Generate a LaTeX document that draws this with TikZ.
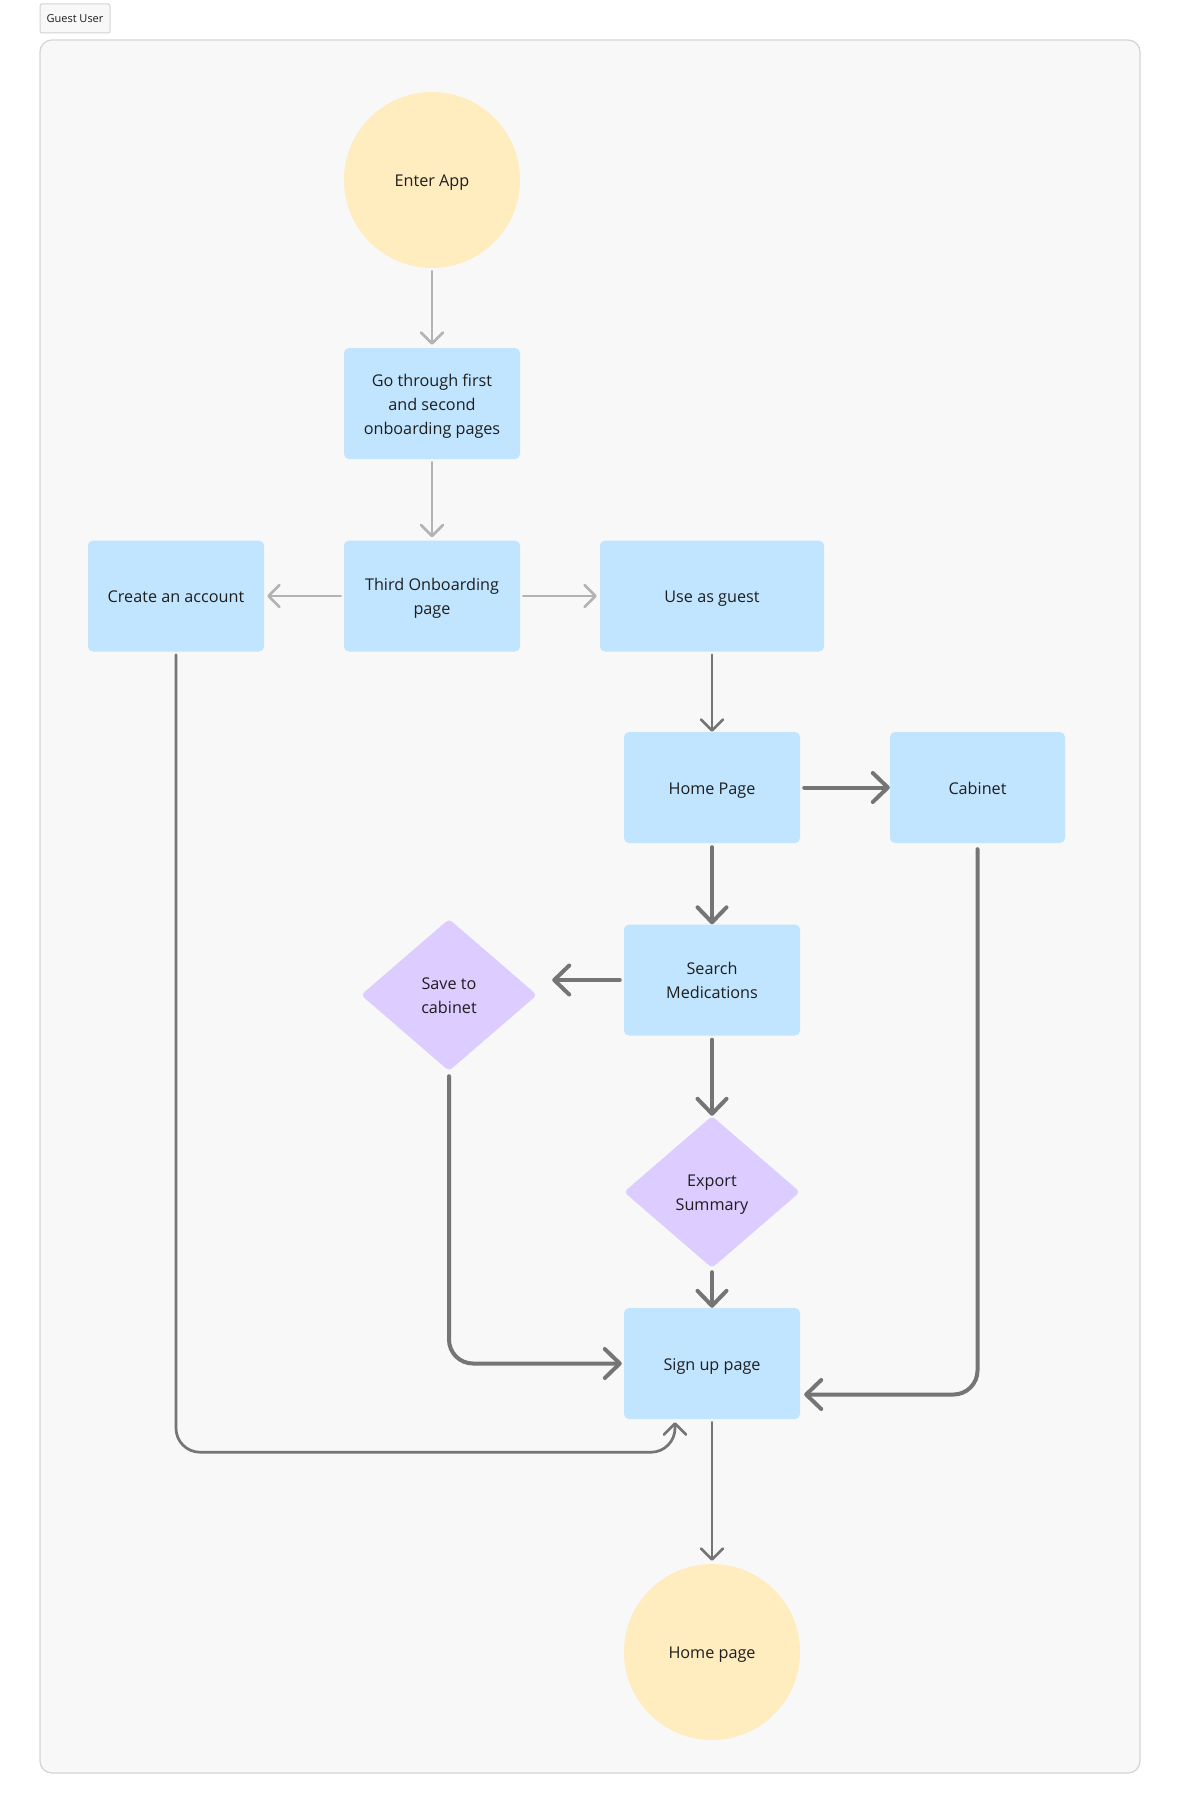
\documentclass[tikz,border=0pt]{standalone}
\usepackage{fontspec}
\setmainfont{Open Sans}
\usetikzlibrary{arrows.meta,shapes.geometric}
\definecolor{ylw}{HTML}{FFECBF}
\definecolor{blu}{HTML}{C2E5FF}
\definecolor{prp}{HTML}{DCCCFF}
\definecolor{dk}{HTML}{757575}
\definecolor{lt}{HTML}{B3B3B3}
\definecolor{txt}{HTML}{1E1E1E}
\definecolor{framebg}{HTML}{F8F8F8}
\definecolor{frameln}{HTML}{D6D6D6}
\newcommand{\linestrut}{\rule[-5.5pt]{0pt}{24pt}}
\newcommand{\mlines}[1]{\raisebox{-1.7pt}[\height][\depth]{\begin{tabular}{@{}c@{}}#1\end{tabular}}}
\begin{document}
\begin{tikzpicture}[x=1pt,y=-1pt,
  lbl/.style={font=\fontsize{16.2}{24}\selectfont, text=txt, inner sep=0pt,
    execute at begin node=\linestrut, execute at end node=\linestrut},
  boxnode/.style={lbl, rectangle, fill=blu, rounded corners=5pt, minimum width=176pt, minimum height=111pt},
  circnode/.style={lbl, circle, fill=ylw, minimum size=176pt},
  dianode/.style={lbl, diamond, fill=prp, rounded corners=4pt, minimum width=176pt, minimum height=152pt},
  lightarrow/.style={draw=lt, line width=2.6pt, line cap=round, -{Straight Barb[length=11pt,width=22pt,round]}, shorten <=3pt, shorten >=3pt},
  thinarrow/.style={draw=dk, line width=2.7pt, line cap=round, -{Straight Barb[length=11pt,width=22pt,round]}, shorten <=3pt, shorten >=0pt},
  thickarrow/.style={draw=dk, line width=4pt, line cap=round, -{Straight Barb[length=15pt,width=29pt,round]}, shorten <=4pt, shorten >=0pt}
]
\useasboundingbox (0,0) rectangle (1181,1814);
\fill[white] (0,0) rectangle (1181,1814);
\draw[fill=framebg, draw=frameln, line width=1.3pt, rounded corners=12pt] (40,40) rectangle (1140,1773);
\node[draw=frameln!85!black!60, fill=framebg, line width=1pt, rounded corners=2pt, minimum width=70pt, minimum height=29pt, inner sep=0pt, font=\fontsize{11}{13}\selectfont, text=txt] (tag) at (75,18.5) {Guest User};

\node[circnode] (enter) at (432,180) {Enter App};
\node[boxnode] (go) at (432,403.5) {\mlines{Go through first\\and second\\onboarding pages}};
\node[boxnode] (third) at (432,596) {\mlines{Third Onboarding\\page}};
\node[boxnode] (create) at (176,596) {Create an account};
\node[boxnode, minimum width=224pt] (guest) at (712,596) {Use as guest};
\node[boxnode] (home) at (712,787.5) {Home Page};
\node[boxnode, minimum width=175pt] (cab) at (977.5,787.5) {Cabinet};
\node[boxnode] (search) at (712,980) {\mlines{Search\\Medications}};
\node[dianode] (save) at (449,995) {\mlines{Save to\\cabinet}};
\node[dianode] (export) at (712,1192) {\mlines{Export\\Summary}};
\node[boxnode] (signup) at (712,1363.5) {Sign up page};
\node[circnode] (homeend) at (712,1652) {Home page};

\draw[lightarrow] (enter) -- (go);
\draw[lightarrow] (go) -- (third);
\draw[lightarrow] (third) -- (create);
\draw[lightarrow] (third) -- (guest);
\draw[thinarrow] (guest) -- (home);
\draw[thickarrow] (home) -- (cab);
\draw[thickarrow] (home) -- (search);
\draw[thickarrow, shorten >=15pt] (search.west) -- (search.west -| save.east);
\draw[thickarrow] (search) -- (export);
\draw[thickarrow] (export) -- (signup);
\draw[thickarrow, rounded corners=24pt, shorten <=5pt, shorten >=2pt] (save.south) |- (signup.west);
\draw[thickarrow, rounded corners=24pt, shorten <=6pt, shorten >=4pt] (cab.south) |- ([yshift=-31pt]signup.east);
\draw[thinarrow, rounded corners=24pt, shorten >=3pt] (create.south) |- ([xshift=-37pt,yshift=-33pt]signup.south) -- ([xshift=-37pt]signup.south);
\draw[thinarrow, shorten >=3pt] (signup) -- (homeend);
\end{tikzpicture}
\end{document}
